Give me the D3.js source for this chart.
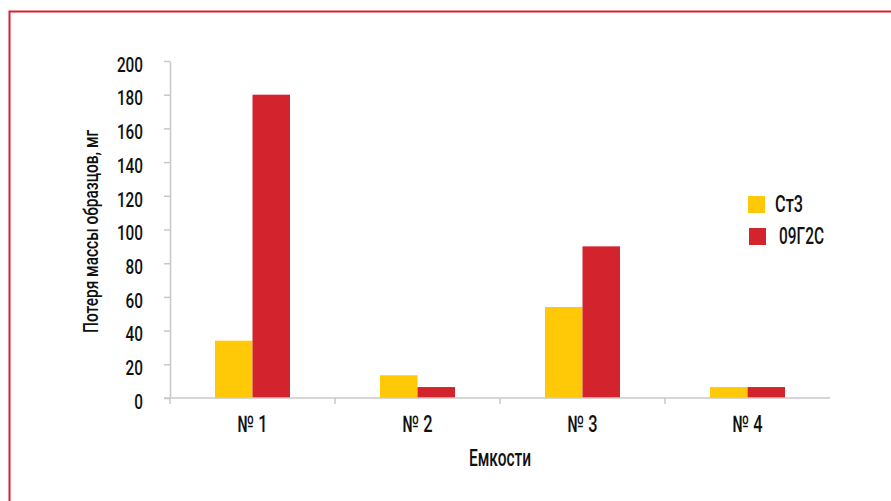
<!DOCTYPE html>
<html><head><meta charset="utf-8">
<script src="https://cdn.jsdelivr.net/npm/d3@7"></script>
<style>
html,body{margin:0;padding:0;background:#fff;}
svg text{font-family:Roboto,"DejaVu Sans Condensed",sans-serif;font-weight:500;fill:#111;}
</style></head>
<body><svg id="c" width="891" height="501"></svg>
<script>
const categories = ["№ 1", "№ 2", "№ 3", "№ 4"];
const seriesNames = ["Ст3", "09Г2С"];
const st3 = [34, 13.5, 54, 6.5];
const g09 = [180, 6.5, 90, 6.5];
const yTicks = [0, 20, 40, 60, 80, 100, 120, 140, 160, 180, 200];
const colors = ["#FFC907", "#D3242D"];

const svg = d3.select("#c");
// frame
svg.append("path").attr("d", "M9.5,501 V11.5 H891").attr("fill", "none")
  .attr("stroke", "#D8232F").attr("stroke-width", 2);

const x0 = d3.scaleBand().domain(categories).range([170, 830]).padding(0);
const x1 = d3.scaleBand().domain(seriesNames).range([0, x0.bandwidth()]).paddingInner(0).paddingOuter(1.2);
const y = d3.scaleLinear().domain([0, 200]).range([398, 61]);

const grey = "#c8c8c8";
// y axis
const ya = svg.append("g").attr("transform", "translate(170,0)")
  .call(d3.axisLeft(y).tickValues(yTicks).tickSize(6).tickPadding(21).tickSizeOuter(0));
ya.select(".domain").attr("stroke", grey).attr("stroke-width", 1.5);
ya.selectAll(".tick line").attr("stroke", grey).attr("stroke-width", 1.5);
ya.selectAll(".tick text").style("font-size", "20.5px").attr("fill", "#111")
  .attr("dy", "0.5em")
  .attr("textLength", d => String(d).length * 8.7).attr("lengthAdjust", "spacingAndGlyphs");

// bars
const data = categories.map((c, i) => ({c, vals: [st3[i], g09[i]]}));
const groups = svg.append("g").selectAll("g").data(data).join("g")
  .attr("transform", d => `translate(${x0(d.c)},0)`);
groups.selectAll("rect").data(d => d.vals.map((v, j) => ({s: seriesNames[j], v, j})))
  .join("rect")
  .attr("x", d => x1(d.s)).attr("width", x1.bandwidth())
  .attr("y", d => y(d.v)).attr("height", d => y(0) - y(d.v))
  .attr("fill", d => colors[d.j]);

// x axis
const xa = svg.append("g").attr("transform", "translate(0,398)");
xa.append("line").attr("x1", 164).attr("x2", 830).attr("y1", 0).attr("y2", 0)
  .attr("stroke", grey).attr("stroke-width", 1.5);
const bounds = categories.map(c => x0(c));
xa.selectAll("line.tk").data(bounds).join("line").attr("class", "tk")
  .attr("x1", d => d).attr("x2", d => d).attr("y1", 0).attr("y2", 6)
  .attr("stroke", grey).attr("stroke-width", 1.5);
xa.selectAll("text").data(categories).join("text")
  .attr("x", d => x0(d) + x0.bandwidth() / 2).attr("y", 34)
  .attr("text-anchor", "middle").style("font-size", "23px")
  .attr("textLength", 30).attr("lengthAdjust", "spacingAndGlyphs").text(d => d);

// axis titles
svg.append("text").attr("x", 500).attr("y", 466).attr("text-anchor", "middle")
  .style("font-size", "23.5px").attr("textLength", 62).attr("lengthAdjust", "spacingAndGlyphs").text("Емкости");
svg.append("text").attr("transform", "translate(97.5,231.5) rotate(-90)")
  .attr("text-anchor", "middle").style("font-size", "20px")
  .attr("textLength", 203).attr("lengthAdjust", "spacingAndGlyphs").text("Потеря массы образцов, мг");

// legend
const lg = svg.append("g");
const lgPos = [{x: 748, y: 196, tx: 775, w: 28, by: 212}, {x: 749, y: 228, tx: 779, w: 45, by: 244}];
seriesNames.forEach((s, i) => {
  lg.append("rect").attr("x", lgPos[i].x).attr("y", lgPos[i].y).attr("width", 17).attr("height", 17).attr("fill", colors[i]);
  lg.append("text").attr("x", lgPos[i].tx).attr("y", lgPos[i].by).style("font-size", "23px")
    .attr("textLength", lgPos[i].w).attr("lengthAdjust", "spacingAndGlyphs").text(s);
});
</script></body></html>
